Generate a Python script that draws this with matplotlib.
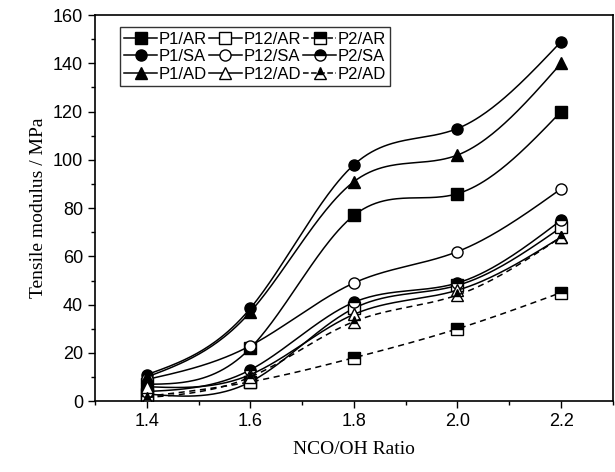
import numpy as np
import matplotlib
matplotlib.use('Agg')
import matplotlib.pyplot as plt
from matplotlib.ticker import MultipleLocator

# NCO/OH ratio
ratio = [1.4, 1.6, 1.8, 2.0, 2.2]

# tensile modulus (MPa)
p1_ar = [7, 22, 77, 86, 120]
p12_ar = [3, 8, 38.5, 48, 72]
p2_ar = [2, 8, 18, 30, 45]
p1_sa = [11, 38.5, 98, 113, 149]
p12_sa = [9, 23, 49, 62, 88]
p2_sa = [4, 13, 41, 49, 75]
p1_ad = [10, 37, 91, 102, 140]
p12_ad = [6, 11, 36, 46, 68]
p2_ad = [1.5, 10, 33, 44, 68]

labels = ['P1/AR', 'P12/AR', 'P2/AR',
          'P1/SA', 'P12/SA', 'P2/SA',
          'P1/AD', 'P12/AD', 'P2/AD']
series = [p1_ar, p12_ar, p2_ar, p1_sa, p12_sa, p2_sa, p1_ad, p12_ad, p2_ad]
markers = ['s', 's', 's', 'o', 'o', 'o', '^', '^', '^']
fills = ['full', 'none', 'top', 'full', 'none', 'top', 'full', 'none', 'top']
styles = ['-', '-', '--', '-', '-', '-', '-', '-', '--']


def natural_spline(x, y, n=200):
    """Natural cubic spline through the points, for a smooth line."""
    x = np.asarray(x, float)
    y = np.asarray(y, float)
    k = len(x)
    h = np.diff(x)
    A = np.zeros((k, k))
    b = np.zeros(k)
    A[0, 0] = A[-1, -1] = 1
    for i in range(1, k - 1):
        A[i, i - 1] = h[i - 1]
        A[i, i] = 2 * (h[i - 1] + h[i])
        A[i, i + 1] = h[i]
        b[i] = 6 * ((y[i + 1] - y[i]) / h[i] - (y[i] - y[i - 1]) / h[i - 1])
    m = np.linalg.solve(A, b)
    xs = np.linspace(x[0], x[-1], n)
    idx = np.clip(np.searchsorted(x, xs) - 1, 0, k - 2)
    x0, x1 = x[idx], x[idx + 1]
    hh = x1 - x0
    t0, t1 = x1 - xs, xs - x0
    ys = (m[idx] * t0 ** 3 + m[idx + 1] * t1 ** 3) / (6 * hh) \
        + (y[idx] / hh - m[idx] * hh / 6) * t0 \
        + (y[idx + 1] / hh - m[idx + 1] * hh / 6) * t1
    return xs, ys


fig = plt.figure(figsize=(6.15, 4.72), dpi=100)
ax = fig.add_axes([0.1545, 0.150, 0.842, 0.818])

handles = []
for vals, lab, mk, fs, ls in zip(series, labels, markers, fills, styles):
    xs, ys = natural_spline(ratio, vals)
    ax.plot(xs, ys, color='black', linestyle=ls, linewidth=1.1,
            dashes=(4, 3) if ls == '--' else (None, None))
    kw = dict(color='black', marker=mk, markersize=8, markeredgewidth=1.0,
              markeredgecolor='black')
    if fs == 'none':
        kw.update(markerfacecolor='white')
    elif fs == 'top':
        kw.update(fillstyle='top', markerfacecolor='black',
                  markerfacecoloralt='white')
    ax.plot(ratio, vals, linestyle='none', **kw)
    h, = ax.plot([], [], linestyle=ls, linewidth=1.1, label=lab, **kw)
    handles.append(h)

ax.set_xlim(1.3, 2.3)
ax.set_ylim(0, 160)
ax.xaxis.set_minor_locator(MultipleLocator(0.1))
ax.yaxis.set_major_locator(MultipleLocator(20))
ax.yaxis.set_minor_locator(MultipleLocator(10))
ax.set_xticks([1.4, 1.6, 1.8, 2.0, 2.2])
ax.set_xticklabels(['1.4', '1.6', '1.8', '2.0', '2.2'])
ax.tick_params(which='major', direction='out', length=5, width=1.0,
               labelsize=13, top=False, right=False)
ax.tick_params(which='minor', direction='out', length=3, width=1.0,
               top=False, right=False)
for lbl in ax.get_xticklabels() + ax.get_yticklabels():
    lbl.set_fontfamily('Liberation Sans')
for sp in ax.spines.values():
    sp.set_linewidth(1.2)

ax.set_xlabel('NCO/OH Ratio', fontfamily='Liberation Serif', fontsize=14,
              labelpad=8)
ax.set_ylabel('Tensile modulus / MPa', fontfamily='Liberation Serif',
              fontsize=14, labelpad=4)

# legend filled row by row, matplotlib fills column by column
order = [0, 3, 6, 1, 4, 7, 2, 5, 8]
leg = ax.legend([handles[i] for i in order], [labels[i] for i in order],
                ncol=3, loc='upper left', bbox_to_anchor=(0.048, 0.968),
                frameon=True, fancybox=False, edgecolor='black',
                handlelength=2.0, handletextpad=0.1, columnspacing=0.1,
                labelspacing=0.15, borderpad=0.25, borderaxespad=0,
                prop={'family': 'Liberation Sans', 'size': 12})
leg.get_frame().set_linewidth(1.0)

fig.savefig('out.png', dpi=100)
